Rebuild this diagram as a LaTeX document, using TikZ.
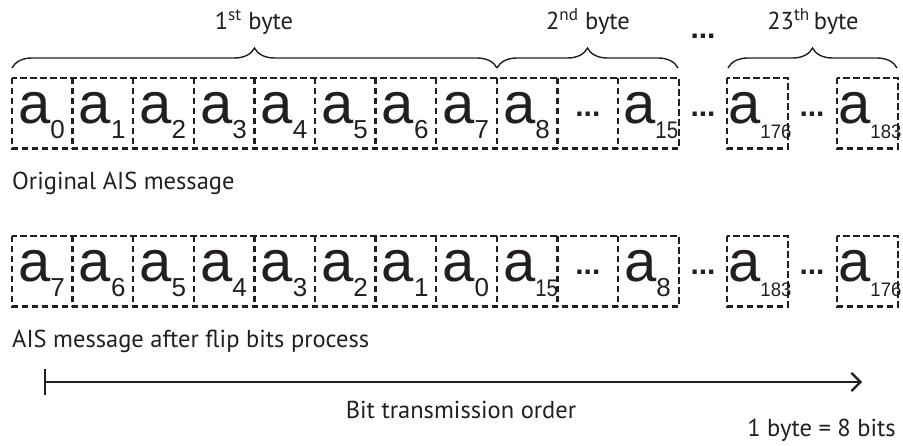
\documentclass[tikz,border=0pt]{standalone}
\usepackage{fontspec}
\setmainfont{PT Sans}
\newfontfamily\af{Liberation Sans}
\usetikzlibrary{decorations.pathreplacing,arrows.meta}
\definecolor{ink}{HTML}{231F20}
\newcommand{\bitA}[3]{{\af\fontsize{58}{58}\selectfont a\raisebox{-15pt}{\fontsize{#2}{#2}\selectfont\scalebox{#3}[1]{#1}}}}
\begin{document}
\begin{tikzpicture}[x=1pt,y=-1pt,
  cell/.style={minimum width=60.6pt, minimum height=70pt, inner sep=0pt, anchor=north west},
  dline/.style={draw=ink, line width=2.3pt, dash pattern=on 6.5pt off 3.5pt},
  glyph/.style={anchor=base west, inner sep=0pt, text=ink},
  lab/.style={font=\fontsize{24.5}{28}\selectfont, text=ink, inner sep=0pt},
  dots/.style={font=\af\bfseries\fontsize{30}{30}\selectfont, text=ink, inner sep=0pt},
  brc/.style={draw=ink, line width=1.4pt, decorate, decoration={brace, amplitude=20pt}}]
\useasboundingbox (0,0) rectangle (903,446);

% ---- top row cells
\foreach \i in {0,...,10} {
  \node[cell] (t\i) at (12+60.6*\i,78) {};
}
\node[cell] (t11) at (727,78) {};
\node[cell] (t12) at (837,78) {};
% ---- bottom row cells
\foreach \i in {0,...,10} {
  \node[cell] (b\i) at (12+60.6*\i,236) {};
}
\node[cell] (b11) at (727,236) {};
\node[cell] (b12) at (837,236) {};

% ---- dashed borders
\draw[dline] (t0.north west) rectangle (t10.south east);
\foreach \i in {1,...,10} { \draw[dline] (t\i.north west) -- (t\i.south west); }
\draw[dline] (t11.north west) rectangle (t11.south east);
\draw[dline] (t12.north west) rectangle (t12.south east);
\draw[dline] (b0.north west) rectangle (b10.south east);
\foreach \i in {1,...,10} { \draw[dline] (b\i.north west) -- (b\i.south west); }
\draw[dline] (b11.north west) rectangle (b11.south east);
\draw[dline] (b12.north west) rectangle (b12.south east);

% ---- glyphs top row
\foreach \i/\s in {0/0,1/1,2/2,3/3,4/4,5/5,6/6,7/7,8/8} {
  \node[glyph] (gt\i) at ([xshift=6pt]t\i.west |- 0,124) {\bitA{\s}{26}{1}};
}
\node[glyph] (gt10) at ([xshift=5pt]t10.west |- 0,124) {\bitA{15}{24}{0.85}};
\node[glyph] (gt11) at ([xshift=1pt]t11.west |- 0,124) {\bitA{176}{19.5}{0.95}};
\node[glyph] (gt12) at ([xshift=1pt]t12.west |- 0,124) {\bitA{183}{19.5}{0.95}};
% ---- glyphs bottom row
\foreach \i/\s in {0/7,1/6,2/5,3/4,4/3,5/2,6/1,7/0} {
  \node[glyph] (gb\i) at ([xshift=6pt]b\i.west |- 0,282) {\bitA{\s}{26}{1}};
}
\node[glyph] (gb8) at ([xshift=6pt]b8.west |- 0,282) {\bitA{15}{24}{0.85}};
\node[glyph] (gb10) at ([xshift=6pt]b10.west |- 0,282) {\bitA{8}{26}{1}};
\node[glyph] (gb11) at ([xshift=1pt]b11.west |- 0,282) {\bitA{183}{19.5}{0.95}};
\node[glyph] (gb12) at ([xshift=1pt]b12.west |- 0,282) {\bitA{176}{19.5}{0.95}};

% ---- ellipses
\node[dots] (dt9) at (t9.center |- 0,114) {...};
\node[dots] (dtA) at (703,114) {...};
\node[dots] (dtB) at (812,114) {...};
\node[dots] (db9) at (b9.center |- 0,272) {...};
\node[dots] (dbA) at (703,272) {...};
\node[dots] (dbB) at (812,272) {...};
\node[dots] (dtop) at (703,36) {...};

% ---- braces
\coordinate (br1a) at (12,68);
\coordinate (br1b) at (497,68);
\coordinate (br2b) at (678,68);
\coordinate (br3a) at (728,68);
\coordinate (br3b) at (897,68);
\draw[brc] (br1a) -- (br1b);
\draw[brc] (br1b) -- (br2b);
\draw[brc] (br3a) -- (br3b);
\node[lab, anchor=base] (l1) at (254,30) {1\textsuperscript{st} byte};
\node[lab, anchor=base] (l2) at (588,30) {2\textsuperscript{nd} byte};
\node[lab, anchor=base] (l3) at (813,30) {23\textsuperscript{th}\,byte};

% ---- row captions
\node[lab, anchor=base west] (c1) at (12,190) {Original AIS message};
\node[lab, anchor=base west] (c2) at (12,348) {AIS message after flip bits process};

% ---- arrow
\coordinate (as) at (44,382);
\coordinate (ae) at (862,382);
\draw[draw=ink, line width=2.3pt, {Bar[width=26pt]}-{Straight Barb[length=9pt,width=18pt,line width=2.3pt]}] (as) -- (ae);
\node[lab, anchor=base] (c3) at (461,419) {Bit transmission order};
\node[lab, anchor=base east] (c4) at (896,437) {1 byte = 8 bits};
\end{tikzpicture}
\end{document}
